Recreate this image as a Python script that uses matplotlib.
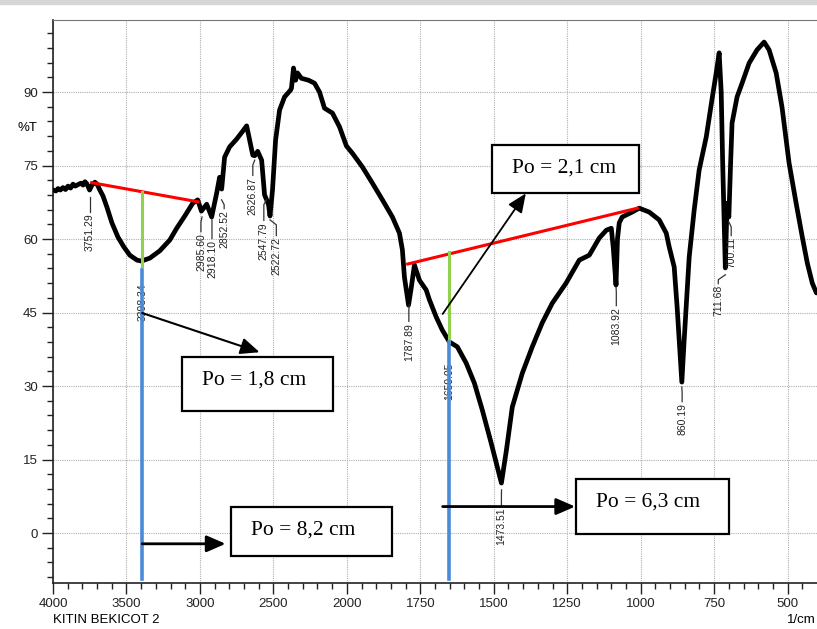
import numpy as np
import matplotlib
matplotlib.use("Agg")
import matplotlib.pyplot as plt
from matplotlib.ticker import FixedLocator, NullFormatter
from matplotlib.patches import Rectangle

# ---------------- data ----------------
wavenumber = [4000, 3980, 3966, 3950, 3932, 3915, 3898, 3880, 3864, 3848, 3830, 3810, 3795, 3783, 3770,
              3751, 3735, 3715, 3700, 3681, 3660, 3633, 3599, 3558, 3518, 3477, 3429, 3398, 3341, 3273,
              3205, 3158, 3103, 3049, 3015, 2990, 2954, 2920, 2886, 2866, 2852, 2832, 2798, 2750, 2709,
              2682, 2662, 2640, 2627, 2607, 2580, 2560, 2546, 2533, 2523, 2506, 2485, 2458, 2424, 2383,
              2377, 2363, 2349, 2336, 2309, 2260, 2220, 2186, 2152, 2098, 2050, 2003,
              1981, 1947, 1913, 1879, 1845, 1821, 1811, 1804, 1790, 1781, 1770, 1753, 1730, 1719, 1696,
              1675, 1651, 1624, 1594, 1566, 1539, 1509, 1474, 1457, 1437, 1403, 1369, 1335, 1301, 1254,
              1209, 1175, 1141, 1117, 1100, 1093, 1084, 1079, 1073, 1063, 1029, 1005, 971, 937, 913,
              903, 886, 876, 860, 852, 835, 818, 801, 777, 756, 743, 733, 726, 721, 712, 706, 700, 694,
              689, 672, 655, 631, 604, 580, 563, 539, 519, 495, 471, 450, 433, 416, 402]
transmittance = [70.0, 69.8, 70.3, 70.0, 70.5, 70.1, 70.8, 70.4, 71.2, 70.8, 71.1, 71.4, 71.0, 71.7, 71.3,
                 70.0, 71.0, 71.6, 71.2, 70.0, 68.8, 66.5, 63.3, 60.4, 58.4, 56.7, 55.7, 55.5, 56.1, 57.6,
                 59.8, 62.2, 64.7, 67.3, 68.0, 65.7, 67.1, 64.5, 69.4, 72.6, 70.2, 76.7, 78.8, 80.4, 82.0,
                 83.1, 80.2, 77.1, 77.0, 77.9, 76.1, 69.0, 68.0, 67.0, 64.7, 70.0, 80.2, 86.3, 89.0, 90.4,
                 90.8, 94.9, 92.4, 93.9, 92.8, 92.4, 91.8, 90.0, 86.7, 85.7, 82.9, 79.0,
                 77.5, 74.7, 71.4, 68.0, 64.5, 61.2, 57.8, 52.2, 46.5, 50.0, 54.7, 51.6, 49.6, 47.6, 44.1,
                 41.4, 39.0, 38.0, 34.7, 30.6, 25.1, 18.4, 10.2, 16.9, 25.7, 32.6, 38.0, 42.9, 46.9, 51.0,
                 55.7, 56.7, 60.2, 61.8, 62.2, 58.0, 50.6, 60.0, 63.3, 64.5, 65.5, 66.3, 65.5, 63.9, 61.2,
                 58.4, 54.3, 46.1, 30.8, 39.4, 56.3, 65.9, 74.1, 80.8, 89.0, 93.9, 98.0, 90.0, 75.5, 54.1, 67.3, 64.5, 75.5,
                 83.7, 89.0, 91.8, 95.9, 98.6, 100.2, 98.6, 93.9, 86.9, 75.5, 67.3, 60.4, 55.1, 51.0, 49.0]

peak_labels = ["3751.29", "3398.34", "2985.60", "2918.10", "2852.52", "2626.87", "2547.79", "2522.72",
               "1787.89", "1650.05", "1473.51", "1083.92", "860.19", "711.68", "700.11"]
peak_wavenumbers = [3751.29, 3398.34, 2985.60, 2918.10, 2852.52, 2626.87, 2547.79, 2522.72,
                    1787.89, 1650.05, 1473.51, 1083.92, 860.19, 711.68, 700.11]

x_major = [4000, 3500, 3000, 2500, 2000, 1750, 1500, 1250, 1000, 750, 500]
y_major = [0, 15, 30, 45, 60, 75, 90]

# baseline / measurement annotation values (wavenumber, %T)
baseline1_w = [3737, 3013]
baseline1_t = [71.5, 67.6]
baseline2_w = [1793, 1011]
baseline2_t = [54.9, 66.3]
band1_w = 3393
band1_top, band1_bottom = 69.65, 54.5
band2_w = 1651
band2_top, band2_bottom = 57.3, 39.0
blue_bottom = -9.4
blue1_top = 53.6
blue2_top = 39.0

box_texts = ["Po = 1,8 cm", "Po = 8,2 cm", "Po = 2,1 cm", "Po = 6,3 cm"]

# ---------------- layout ----------------
label_x = [3751.29, 3389, 2993, 2918, 2835, 2640, 2565, 2480, 1789, 1651, 1474, 1083, 859, 736, 692]
leader_top = [68.6, None, 64.5, 63.9, 68.0, 76.1, 68.0, 63.9, 46.5, None, 8.8, 50.2, 29.8, 52.7, 63.5]
text_top = [65.2, 51.0, 61.2, 59.8, 65.9, 72.7, 63.5, 60.4, 42.9, 34.7, 5.3, 46.1, 26.5, 50.6, 60.4]


def fwd(w):
    # increasing piecewise map: 4000-2000 compressed by 2
    w = np.asarray(w, dtype=float)
    return np.where(w >= 2000, 1000 + (w - 2000) / 2.0, w - 1000)


def inv(u):
    u = np.asarray(u, dtype=float)
    return np.where(u >= 1000, 2000 + 2.0 * (u - 1000), u + 1000)


fig = plt.figure(figsize=(8.17, 6.29), dpi=100)
fig.patch.set_facecolor("white")
ax = fig.add_axes([53 / 817, 46 / 629, 764 / 817, 563 / 629])
ax.set_xscale("function", functions=(fwd, inv))
ax.set_xlim(4000, 400)
ax.set_ylim(-10.2, 104.7)

# light top band of the page
fig.patches.append(Rectangle((0, 1 - 4 / 629), 1, 4 / 629, transform=fig.transFigure,
                             color="#d6d6d6", zorder=0))

ax.xaxis.set_major_locator(FixedLocator(x_major))
minor_x = [w for w in range(3900, 2000, -100) if w not in x_major] + \
          [w for w in range(1950, 400, -50) if w not in x_major]
ax.xaxis.set_minor_locator(FixedLocator(minor_x))
ax.xaxis.set_minor_formatter(NullFormatter())
ax.set_xticklabels([str(v) for v in x_major])
ax.yaxis.set_major_locator(FixedLocator(y_major))
ax.yaxis.set_minor_locator(FixedLocator([v for v in range(-9, 105, 3) if v % 15 != 0]))
ax.set_yticklabels([str(v) for v in y_major])

for lab in ax.get_xticklabels() + ax.get_yticklabels():
    lab.set_fontfamily("Liberation Sans")
    lab.set_fontsize(9.5)
ax.tick_params(axis="both", which="major", length=8, width=1, direction="out", pad=3, colors="#222222")
ax.tick_params(axis="both", which="minor", length=4.5, width=1, direction="out", colors="#222222")

ax.grid(True, which="major", linestyle=(0, (1, 1)), color="#b0b0b0", linewidth=0.8)
ax.set_axisbelow(True)
ax.spines["right"].set_visible(False)
ax.spines["top"].set_color("#777777")
ax.spines["left"].set_color("#222222")
ax.spines["bottom"].set_color("#222222")
ax.spines["left"].set_linewidth(1.2)
ax.spines["bottom"].set_linewidth(1.2)

# spectrum
ax.plot(wavenumber, transmittance, color="black", lw=3.4, solid_joinstyle="round",
        solid_capstyle="round", zorder=3)

# peak labels and leaders
for lab, pw, lx, lt, tt in zip(peak_labels, peak_wavenumbers, label_x, leader_top, text_top):
    if lt is not None:
        ax.plot([pw, lx, lx], [lt, lt - 1.0, tt + 0.3], color="#333333", lw=0.9, zorder=3)
    ax.text(lx, tt, lab, rotation=90, ha="center", va="top", fontsize=7.5,
            family="Liberation Sans", color="#222222", zorder=3)

# baselines and measurement lines
ax.plot(baseline1_w, baseline1_t, color="#ff0000", lw=2.2, zorder=5)
ax.plot(baseline2_w, baseline2_t, color="#ff0000", lw=2.2, zorder=5)
ax.plot([band1_w, band1_w], [band1_top, band1_bottom], color="#92d050", lw=2.2, zorder=5)
ax.plot([band2_w, band2_w], [band2_top, band2_bottom], color="#92d050", lw=2.2, zorder=5)
ax.plot([band1_w, band1_w], [blue1_top, blue_bottom], color="#4a8ad6", lw=2.6, zorder=5)
ax.plot([band2_w, band2_w], [blue2_top, blue_bottom], color="#4a8ad6", lw=2.6, zorder=5)

arrow_kw = dict(arrowstyle="-|>,head_length=1.15,head_width=0.5", mutation_scale=10,
                color="black", shrinkA=0, shrinkB=0)
ax.annotate("", xy=(2594, 36.9), xytext=(band1_w, 44.9),
            arrowprops=dict(lw=1.5, **arrow_kw), zorder=6)
ax.annotate("", xy=(2825, -2.2), xytext=(band1_w, -2.2),
            arrowprops=dict(lw=2.0, **arrow_kw), zorder=6)
ax.annotate("", xy=(1391, 69.3), xytext=(1674, 44.7),
            arrowprops=dict(lw=1.3, **arrow_kw), zorder=6)
ax.annotate("", xy=(1223, 5.4), xytext=(1674, 5.4),
            arrowprops=dict(lw=2.0, **arrow_kw), zorder=6)

# boxes (axes fraction)
boxes = [((0.1688, 0.3055), 0.1977, 0.0959, (0.2637, 0.3606)),
         ((0.2330, 0.0480), 0.2107, 0.0870, (0.3279, 0.0941)),
         ((0.5742, 0.6933), 0.1928, 0.0847, (0.6693, 0.7371)),
         ((0.6842, 0.0870), 0.2006, 0.0977, (0.7788, 0.1444))]
for (xy, w, h, tc), txt in zip(boxes, box_texts):
    ax.add_patch(Rectangle(xy, w, h, transform=ax.transAxes, facecolor="white",
                           edgecolor="black", lw=1.6, zorder=7))
    ax.text(tc[0], tc[1], txt, transform=ax.transAxes, ha="center", va="center",
            fontsize=15.5, family="Liberation Serif", zorder=8)

# axis texts
fig.text(18 / 817, 1 - 128 / 629, "%T", ha="left", va="center", fontsize=9.5,
         family="Liberation Sans")
fig.text(53 / 817, 1 - 620 / 629, "KITIN BEKICOT 2", ha="left", va="center", fontsize=9.5,
         family="Liberation Sans")
fig.text(0.999, 1 - 620 / 629, "1/cm", ha="right", va="center", fontsize=9.5,
         family="Liberation Sans")

fig.savefig("out.png", dpi=100)
